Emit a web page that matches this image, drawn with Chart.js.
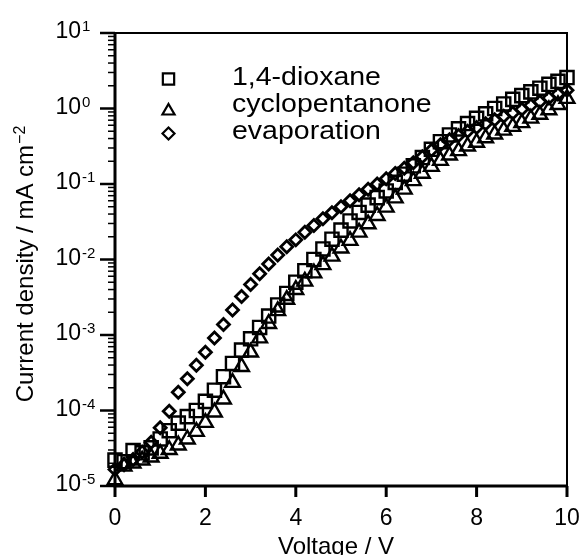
<!DOCTYPE html>
<html>
<head>
<meta charset="utf-8">
<script src="https://cdn.jsdelivr.net/npm/chart.js@4/dist/chart.umd.min.js"></script>
<style>
  html, body { margin: 0; padding: 0; background: #fff; }
  #wrap { width: 580px; height: 555px; }
</style>
</head>
<body>
<div id="wrap"><canvas id="c" width="580" height="555"></canvas></div>
<script>
// ---- data ----
const voltage = [0,0.2,0.4,0.6,0.8,1.0,1.2,1.4,1.6,1.8,2.0,2.2,2.4,2.6,2.8,3.0,3.2,3.4,3.6,3.8,4.0,4.2,4.4,4.6,4.8,5.0,5.2,5.4,5.6,5.8,6.0,6.2,6.4,6.6,6.8,7.0,7.2,7.4,7.6,7.8,8.0,8.2,8.4,8.6,8.8,9.0,9.2,9.4,9.6,9.8,10.0];
const dioxane = [2.2e-5,2.1e-5,2.95e-5,2.75e-5,3.2e-5,4.2e-5,5.4e-5,6.8e-5,8.3e-5,1.0e-4,1.32e-4,1.86e-4,2.8e-4,4.2e-4,6.3e-4,8.9e-4,1.26e-3,1.78e-3,2.5e-3,3.55e-3,5.0e-3,7.1e-3,1.0e-2,1.38e-2,1.86e-2,2.45e-2,3.24e-2,4.2e-2,5.25e-2,6.6e-2,8.1e-2,0.105,0.135,0.174,0.224,0.288,0.363,0.447,0.537,0.631,0.741,0.851,1.0,1.15,1.32,1.48,1.66,1.86,2.09,2.29,2.57];
const cyclopentanone = [1.2e-5,1.82e-5,2.0e-5,2.19e-5,2.4e-5,2.69e-5,3.02e-5,3.47e-5,4.17e-5,5.25e-5,6.9e-5,9.5e-5,1.41e-4,2.34e-4,3.8e-4,5.9e-4,9.1e-4,1.41e-3,2.09e-3,2.95e-3,3.98e-3,5.13e-3,6.6e-3,8.5e-3,1.1e-2,1.41e-2,1.78e-2,2.29e-2,2.95e-2,3.8e-2,4.9e-2,6.5e-2,8.5e-2,0.110,0.138,0.170,0.204,0.240,0.275,0.316,0.355,0.407,0.457,0.513,0.575,0.646,0.741,0.832,0.955,1.12,1.35];
const evaporation = [1.66e-5,1.91e-5,2.24e-5,2.82e-5,3.8e-5,5.9e-5,9.8e-5,1.74e-4,2.63e-4,3.98e-4,5.9e-4,9.1e-4,1.38e-3,2.14e-3,3.24e-3,4.68e-3,6.46e-3,8.71e-3,1.15e-2,1.48e-2,1.82e-2,2.29e-2,2.82e-2,3.47e-2,4.17e-2,5.0e-2,6.0e-2,7.2e-2,8.5e-2,0.100,0.117,0.138,0.162,0.191,0.229,0.28,0.33,0.385,0.44,0.50,0.56,0.63,0.71,0.79,0.87,0.98,1.10,1.23,1.38,1.55,1.74];
const seriesNames = ['1,4-dioxane', 'cyclopentanone', 'evaporation'];
const xTickValues = [0, 2, 4, 6, 8, 10];
const yTickExponents = [-5, -4, -3, -2, -1, 0, 1];
const xTitle = 'Voltage / V';
const yTitle = 'Current density / mA cm';
const yTitleSup = '\u22122';

const FONT = '"Liberation Sans", Arial, Helvetica, sans-serif';
const styles = [
  { shape: 'rect', radius: 9.3, width: 2.4 },
  { shape: 'triangle', radius: 8.5, width: 2.4 },
  { shape: 'rectRot', radius: 6, width: 2.8 }
];

function toPoints(ys) { return voltage.map((v, i) => ({ x: v, y: ys[i] })); }

function drawMarker(ctx, shape, cx, cy, r, lw) {
  ctx.save();
  ctx.lineWidth = lw; ctx.strokeStyle = '#000';
  ctx.beginPath();
  if (shape === 'rect') {
    const s = r * Math.SQRT1_2;
    ctx.rect(cx - s, cy - s, 2 * s, 2 * s);
  } else if (shape === 'triangle') {
    ctx.moveTo(cx, cy - r);
    ctx.lineTo(cx + r * 0.866, cy + r * 0.5);
    ctx.lineTo(cx - r * 0.866, cy + r * 0.5);
    ctx.closePath();
  } else {
    ctx.moveTo(cx, cy - r); ctx.lineTo(cx + r, cy); ctx.lineTo(cx, cy + r); ctx.lineTo(cx - r, cy); ctx.closePath();
  }
  ctx.stroke();
  ctx.restore();
}

const axesPlugin = {
  id: 'axesPlugin',
  beforeDatasetsDraw(chart) {
    const { ctx, chartArea: a, scales: { x, y } } = chart;
    ctx.save();
    ctx.strokeStyle = '#000';
    ctx.lineCap = 'butt';
    // top & right frame
    ctx.lineWidth = 2;
    ctx.beginPath();
    ctx.moveTo(a.left, a.top); ctx.lineTo(a.right, a.top); ctx.lineTo(a.right, a.bottom);
    ctx.stroke();
    // left & bottom axes
    ctx.lineWidth = 3;
    ctx.beginPath();
    ctx.moveTo(a.left, a.top - 1); ctx.lineTo(a.left, a.bottom + 1.5);
    ctx.moveTo(a.left - 1.5, a.bottom); ctx.lineTo(a.right + 1, a.bottom);
    ctx.stroke();
    // x ticks (outward)
    ctx.lineWidth = 3;
    xTickValues.forEach(v => {
      const px = x.getPixelForValue(v);
      ctx.beginPath(); ctx.moveTo(px, a.bottom); ctx.lineTo(px, a.bottom + 11); ctx.stroke();
    });
    // y ticks: majors and minors (outward)
    yTickExponents.forEach(e => {
      const major = Math.pow(10, e);
      const py = y.getPixelForValue(major);
      ctx.lineWidth = 2.5;
      ctx.beginPath(); ctx.moveTo(a.left - 15, py); ctx.lineTo(a.left, py); ctx.stroke();
      if (e < yTickExponents[yTickExponents.length - 1]) {
        ctx.lineWidth = 1.5;
        for (let m = 2; m <= 9; m++) {
          const pm = y.getPixelForValue(m * major);
          ctx.beginPath(); ctx.moveTo(a.left - 7, pm); ctx.lineTo(a.left, pm); ctx.stroke();
        }
      }
    });
    ctx.restore();
  },
  afterDraw(chart) {
    const { ctx, chartArea: a, scales: { x, y } } = chart;
    ctx.save();
    ctx.fillStyle = '#000';
    ctx.textBaseline = 'alphabetic';
    // x tick labels
    ctx.font = '23px ' + FONT;
    ctx.textAlign = 'center';
    xTickValues.forEach(v => ctx.fillText(String(v), x.getPixelForValue(v), a.bottom + 39));
    // y tick labels 10^e
    yTickExponents.forEach(e => {
      const py = y.getPixelForValue(Math.pow(10, e));
      ctx.font = '23px ' + FONT; ctx.textAlign = 'right';
      ctx.fillText('10', 81, py + 5);
      ctx.font = '15px ' + FONT; ctx.textAlign = 'left';
      ctx.fillText(String(e), 82, py - 2);
    });
    // x title
    ctx.font = '24px ' + FONT; ctx.textAlign = 'center';
    ctx.fillText(xTitle, 336, 554);
    // y title (rotated) with superscript
    ctx.save();
    ctx.translate(33, 264);
    ctx.rotate(-Math.PI / 2);
    ctx.font = '24px ' + FONT;
    const w1 = ctx.measureText(yTitle).width;
    ctx.font = '16px ' + FONT;
    const w2 = ctx.measureText(yTitleSup).width;
    const start = -(w1 + w2 + 1) / 2;
    ctx.textAlign = 'left';
    ctx.font = '24px ' + FONT;
    ctx.fillText(yTitle, start, 0);
    ctx.font = '16px ' + FONT;
    ctx.fillText(yTitleSup, start + w1 + 1, -8);
    ctx.restore();
    // legend
    const legMarkY = [79, 111, 133.5];
    const legTextY = [85, 112, 139];
    const legR = [8, 7, 6];
    ctx.font = '25px ' + FONT; ctx.textAlign = 'left';
    seriesNames.forEach((name, i) => {
      drawMarker(ctx, styles[i].shape, 168.5, legMarkY[i], legR[i], 2.2);
      ctx.save();
      ctx.translate(232, legTextY[i]);
      ctx.scale(1.14, 1);
      ctx.fillText(name, 0, 0);
      ctx.restore();
    });
    ctx.restore();
  }
};

const seriesData = [dioxane, cyclopentanone, evaporation];
new Chart(document.getElementById('c').getContext('2d'), {
  type: 'scatter',
  data: {
    datasets: seriesNames.map((name, i) => ({
      label: name,
      data: toPoints(seriesData[i]),
      pointStyle: styles[i].shape,
      pointRadius: styles[i].radius,
      pointHoverRadius: styles[i].radius,
      pointBorderWidth: styles[i].width,
      borderColor: '#000',
      backgroundColor: 'rgba(0,0,0,0)',
      pointBackgroundColor: 'rgba(0,0,0,0)',
      pointBorderColor: '#000',
      showLine: false,
      clip: false
    }))
  },
  options: {
    responsive: false,
    animation: false,
    devicePixelRatio: 1,
    events: [],
    layout: { padding: { left: 115, right: 13, top: 33, bottom: 69 }, autoPadding: false },
    scales: {
      x: { type: 'linear', min: 0, max: 10, display: false },
      y: { type: 'logarithmic', min: 1e-5, max: 10, display: false }
    },
    plugins: { legend: { display: false }, tooltip: { enabled: false } }
  },
  plugins: [axesPlugin]
});
</script>
</body>
</html>
